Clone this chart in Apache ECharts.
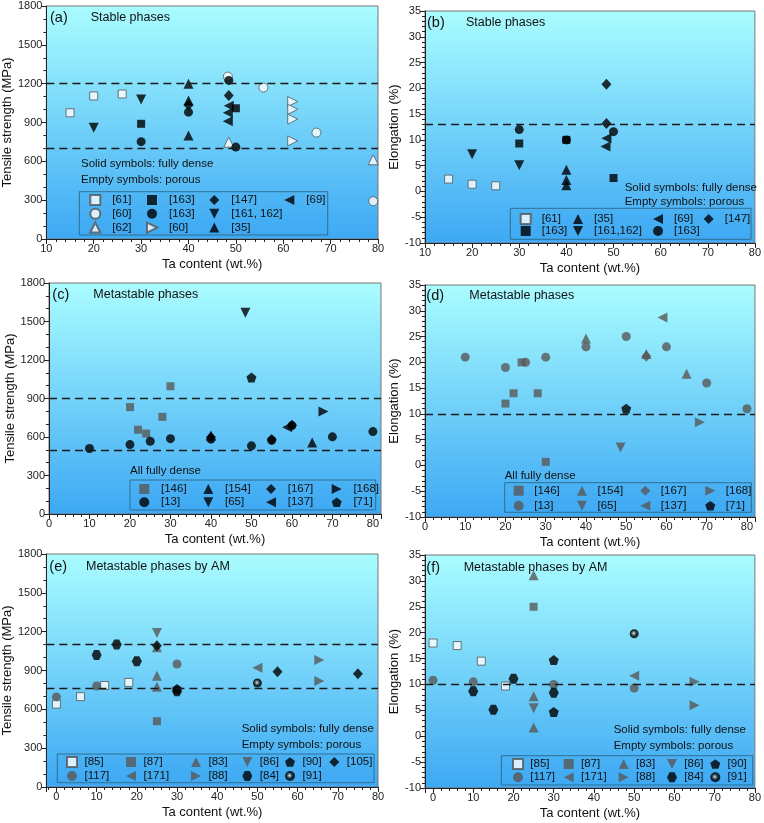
<!DOCTYPE html>
<html>
<head>
<meta charset="utf-8">
<script src="https://cdn.jsdelivr.net/npm/echarts@6.0.0/dist/echarts.min.js"></script>
<style>
  html, body { margin: 0; padding: 0; background: #fff; }
  #chart { width: 764px; height: 823px; }
</style>
</head>
<body>
<div id="chart"></div>
<script>
// ---------- data (x = Ta content wt.%, y = strength MPa / elongation %) ----------
// (a) stable phases, tensile strength
const aRef61 = [[15, 975], [20, 1105], [26, 1120]];
const aRef60c = [[48.3, 1255], [55.8, 1170], [67, 822], [79, 292]];
const aRef62 = [[48.5, 748], [79, 612]];
const aRef163s = [[30, 890], [50, 1010]];
const aRef163c = [[30, 752], [40, 980], [48.5, 1225], [50, 710]];
const aRef60r = [[62, 1062], [62, 1002], [62, 926], [62, 758]];
const aRef147 = [[40, 1035], [48.5, 1108]];
const aRef161 = [[20, 860], [30, 1078]];
const aRef35 = [[40, 1200], [40, 1070], [40, 800]];
const aRef69 = [[48.5, 1030], [48.3, 975], [48.3, 910]];
const aLimits = [1200, 700];

// (b) stable phases, elongation
const bRef61 = [[15, 2.4], [20, 1.4], [25, 1.1]];
const bRef163s = [[30, 9.3], [40, 10], [50, 2.6]];
const bRef35 = [[40, 4.2], [40, 2.2], [40, 1.2]];
const bRef161 = [[20, 7.2], [30, 5.1]];
const bRef69 = [[48.5, 10.3], [48.3, 8.7]];
const bRef163c = [[30, 12], [40, 10], [50, 11.6]];
const bRef147 = [[48.5, 20.8], [48.5, 13.2]];
const bLimits = [13];

// (c) metastable phases, tensile strength
const cRef146 = [[20, 833], [22, 657], [24, 627], [28, 757], [30, 995]];
const cRef13 = [[10, 510], [20, 541], [25, 567], [30, 587], [40, 583], [50, 531], [55, 575], [60, 689], [70, 601], [80, 642]];
const cRef154 = [[40, 612], [65, 558]];
const cRef65 = [[48.5, 1568]];
const cRef167 = [[40, 598], [55, 580], [60, 692]];
const cRef137 = [[58.8, 676]];
const cRef168 = [[67.8, 798]];
const cRef71 = [[50, 1063]];
const cLimits = [900, 500];

// (d) metastable phases, elongation
const dRef146 = [[20, 12], [22, 14], [24, 20], [28, 14], [30, 0.7]];
const dRef13 = [[10, 21], [20, 19], [25, 20], [30, 21], [40, 23], [50, 25], [60, 23], [70, 16], [80, 11]];
const dRef154 = [[40, 24.6], [55, 21.6], [65, 17.8]];
const dRef65 = [[48.6, 3.5]];
const dRef167 = [[55, 21.2]];
const dRef137 = [[59, 28.7]];
const dRef168 = [[68.3, 8.4]];
const dRef71 = [[50, 11]];
const dLimits = [10];

// (e) metastable phases by AM, tensile strength
const eRef85 = [[0, 640], [6, 698], [12, 784], [18, 808]];
const eRef117 = [[0, 696], [10, 780], [30, 950]];
const eRef87 = [[25, 508]];
const eRef171 = [[50, 922]];
const eRef83 = [[25, 1080], [25, 860], [25, 775]];
const eRef88 = [[65.4, 982], [65.4, 818]];
const eRef86 = [[25, 1190]];
const eRef84 = [[10, 1020], [15, 1100], [20, 972], [30, 740]];
const eRef90 = [[30, 757]];
const eRef91 = [[50, 803]];
const eRef105 = [[25, 1092], [55, 890], [75, 874]];
const eLimits = [1100, 760];

// (f) metastable phases by AM, elongation
const fRef85 = [[0, 18], [6, 17.5], [12, 14.5], [18, 9.7]];
const fRef117 = [[0, 10.8], [10, 10.5], [30, 10], [50, 9.3]];
const fRef87 = [[25, 25]];
const fRef171 = [[50, 11.7]];
const fRef83 = [[25, 31.1], [25, 7.7], [25, 1.7]];
const fRef88 = [[65, 10.5], [65, 6]];
const fRef86 = [[25, 5.4]];
const fRef84 = [[10, 8.7], [15, 5.1], [20, 11.1], [30, 8.4]];
const fRef90 = [[30, 14.7], [30, 4.7]];
const fRef91 = [[50, 19.8]];
const fLimits = [10];

// ---------- styling ----------
const FONT = '"Liberation Sans", Arial, sans-serif';
const P = { a: 0, b: 1, c: 2, d: 3, e: 4, f: 5 };

const shapes = {
  square: { symbol: 'rect', size: 8 },
  circle: { symbol: 'circle', size: 9 },
  up: { symbol: 'triangle', size: 10 },
  down: { symbol: 'path://M0,0L100,0L50,100Z', size: 10 },
  left: { symbol: 'path://M100,0L100,100L0,50Z', size: 10 },
  right: { symbol: 'path://M0,0L0,100L100,50Z', size: 10 },
  diamond: { symbol: 'diamond', size: [10, 11] },
  pentagon: { symbol: 'path://M50,0L97.55,34.55L79.39,90.45L20.61,90.45L2.45,34.55Z', size: 10 },
  hexagon: { symbol: 'path://M25,0L75,0L100,50L75,100L25,100L0,50Z', size: 10 }
};

const fills = {
  empty: { color: '#ffffff', borderColor: '#555', borderWidth: 1 },
  black: { color: '#000000' },
  gray: { color: '#595959' },
  ball: {
    color: {
      type: 'radial', x: 0.45, y: 0.45, r: 0.55,
      colorStops: [
        { offset: 0, color: '#ffffff' },
        { offset: 0.3, color: '#666666' },
        { offset: 0.6, color: '#000000' },
        { offset: 1, color: '#000000' }
      ]
    }
  }
};

function sc(panel, label, data, shape, fill, limits) {
  const s = shapes[shape];
  const out = {
    name: panel + '|' + label + '|' + shape,
    type: 'scatter',
    xAxisIndex: P[panel],
    yAxisIndex: P[panel],
    data: data,
    symbol: s.symbol,
    symbolSize: s.size,
    itemStyle: fills[fill],
    emphasis: { disabled: true }
  };
  if (limits) {
    out.markLine = {
      silent: true,
      symbol: 'none',
      label: { show: false },
      lineStyle: { type: [8, 5], color: '#1a1a1a', width: 1.4 },
      data: limits.map(v => ({ yAxis: v }))
    };
  }
  return out;
}

const series = [
  sc('a', '[61]', aRef61, 'square', 'empty', aLimits),
  sc('a', '[60]', aRef60c, 'circle', 'empty'),
  sc('a', '[62]', aRef62, 'up', 'empty'),
  sc('a', '[163]', aRef163s, 'square', 'black'),
  sc('a', '[163]', aRef163c, 'circle', 'black'),
  sc('a', '[60]', aRef60r, 'right', 'empty'),
  sc('a', '[147]', aRef147, 'diamond', 'black'),
  sc('a', '[161, 162]', aRef161, 'down', 'black'),
  sc('a', '[35]', aRef35, 'up', 'black'),
  sc('a', '[69]', aRef69, 'left', 'black'),

  sc('b', '[61]', bRef61, 'square', 'empty', bLimits),
  sc('b', '[163]', bRef163s, 'square', 'black'),
  sc('b', '[35]', bRef35, 'up', 'black'),
  sc('b', '[161,162]', bRef161, 'down', 'black'),
  sc('b', '[69]', bRef69, 'left', 'black'),
  sc('b', '[163]', bRef163c, 'circle', 'black'),
  sc('b', '[147]', bRef147, 'diamond', 'black'),

  sc('c', '[146]', cRef146, 'square', 'gray', cLimits),
  sc('c', '[13]', cRef13, 'circle', 'black'),
  sc('c', '[154]', cRef154, 'up', 'black'),
  sc('c', '[65]', cRef65, 'down', 'black'),
  sc('c', '[167]', cRef167, 'diamond', 'black'),
  sc('c', '[137]', cRef137, 'left', 'black'),
  sc('c', '[168]', cRef168, 'right', 'black'),
  sc('c', '[71]', cRef71, 'pentagon', 'black'),

  sc('d', '[146]', dRef146, 'square', 'gray', dLimits),
  sc('d', '[13]', dRef13, 'circle', 'gray'),
  sc('d', '[154]', dRef154, 'up', 'gray'),
  sc('d', '[65]', dRef65, 'down', 'gray'),
  sc('d', '[167]', dRef167, 'diamond', 'gray'),
  sc('d', '[137]', dRef137, 'left', 'gray'),
  sc('d', '[168]', dRef168, 'right', 'gray'),
  sc('d', '[71]', dRef71, 'pentagon', 'black'),

  sc('e', '[85]', eRef85, 'square', 'empty', eLimits),
  sc('e', '[117]', eRef117, 'circle', 'gray'),
  sc('e', '[87]', eRef87, 'square', 'gray'),
  sc('e', '[171]', eRef171, 'left', 'gray'),
  sc('e', '[83]', eRef83, 'up', 'gray'),
  sc('e', '[88]', eRef88, 'right', 'gray'),
  sc('e', '[86]', eRef86, 'down', 'gray'),
  sc('e', '[84]', eRef84, 'hexagon', 'black'),
  sc('e', '[90]', eRef90, 'pentagon', 'black'),
  sc('e', '[91]', eRef91, 'circle', 'ball'),
  sc('e', '[105]', eRef105, 'diamond', 'black'),

  sc('f', '[85]', fRef85, 'square', 'empty', fLimits),
  sc('f', '[117]', fRef117, 'circle', 'gray'),
  sc('f', '[87]', fRef87, 'square', 'gray'),
  sc('f', '[171]', fRef171, 'left', 'gray'),
  sc('f', '[83]', fRef83, 'up', 'gray'),
  sc('f', '[88]', fRef88, 'right', 'gray'),
  sc('f', '[86]', fRef86, 'down', 'gray'),
  sc('f', '[84]', fRef84, 'hexagon', 'black'),
  sc('f', '[90]', fRef90, 'pentagon', 'black'),
  sc('f', '[91]', fRef91, 'circle', 'ball')
];

// ---------- layout ----------
const bg = {
  type: 'linear', x: 0, y: 0, x2: 0, y2: 1,
  colorStops: [{ offset: 0, color: '#aafdff' }, { offset: 1, color: '#3da8f4' }]
};
const gridBoxes = [
  [46, 6, 332, 233],
  [425, 11, 331, 232],
  [49, 283, 332, 231],
  [425, 285, 330, 232],
  [44, 554, 334, 233],
  [425, 555, 330, 233]
];
const grids = gridBoxes.map(([l, t, w, h]) => ({
  left: l, top: t, width: w, height: h,
  show: true, backgroundColor: bg, borderColor: '#777', borderWidth: 1
}));

const xRanges = [[10, 80], [10, 80], [0, 82], [0, 82], [-2.5, 80], [-2, 80]];
const strengthRange = [0, 1800, 300];
const elongRange = [-10, 35, 5];

const tickStyle = { color: '#222', width: 1 };
const xAxes = xRanges.map(([mn, mx], i) => ({
  type: 'value', gridIndex: i, min: mn, max: mx,
  minInterval: 10, maxInterval: 10, splitNumber: 8,
  name: 'Ta content (wt.%)', nameLocation: 'middle', nameGap: 19,
  nameTextStyle: { fontSize: 13, color: '#111', fontFamily: FONT },
  axisLine: { onZero: false, lineStyle: tickStyle },
  axisTick: { length: 5, lineStyle: tickStyle },
  minorTick: { show: true, splitNumber: 5, length: 3, lineStyle: tickStyle },
  axisLabel: {
    fontSize: 11, color: '#222', margin: 4, fontFamily: FONT,
    formatter: v => (Math.abs(v % 10) < 1e-6 ? String(v) : '')
  },
  splitLine: { show: false }
}));

const yAxes = [0, 1, 2, 3, 4, 5].map(i => {
  const strength = i % 2 === 0;
  const r = strength ? strengthRange : elongRange;
  return {
    type: 'value', gridIndex: i, min: r[0], max: r[1], interval: r[2],
    name: strength ? 'Tensile strength (MPa)' : 'Elongation (%)',
    nameLocation: 'middle', nameGap: strength ? 30 : 23,
    nameTextStyle: { fontSize: 13, color: '#111', fontFamily: FONT },
    axisLine: { show: true, onZero: false, lineStyle: tickStyle },
    axisTick: { show: true, length: 5, lineStyle: tickStyle },
    minorTick: { show: true, splitNumber: strength ? 3 : 5, length: 3, lineStyle: tickStyle },
    axisLabel: { fontSize: 11, color: '#222', margin: 4, fontFamily: FONT, formatter: v => String(v) },
    splitLine: { show: false }
  };
});

// legend columns: panel, icon centre x, first row centre y, icon-to-text offset, row gap, items
function legendCol(panel, cx, cy, textOff, gap, items) {
  return {
    orient: 'vertical', left: cx - 5, top: cy - 6, padding: 0,
    itemWidth: 10, itemHeight: 10, itemGap: gap, selectedMode: false,
    data: items.map(([label, shape]) => panel + '|' + label + '|' + shape),
    formatter: n => n.split('|')[1],
    textStyle: {
      fontSize: 11.5, lineHeight: 12, color: '#111', fontFamily: FONT,
      padding: [0, 0, 0, Math.max(0, textOff - 10)]
    }
  };
}
const legends = [
  legendCol('a', 94.3, 200, 17, 1.8, [['[61]', 'square'], ['[60]', 'circle'], ['[62]', 'up']]),
  legendCol('a', 151, 200, 17, 1.8, [['[163]', 'square'], ['[163]', 'circle'], ['[60]', 'right']]),
  legendCol('a', 214.3, 200, 17, 1.8, [['[147]', 'diamond'], ['[161, 162]', 'down'], ['[35]', 'up']]),
  legendCol('a', 289.3, 200, 17, 1.8, [['[69]', 'left']]),

  legendCol('b', 524.7, 219, 16, 0, [['[61]', 'square'], ['[163]', 'square']]),
  legendCol('b', 578, 219, 16, 0, [['[35]', 'up'], ['[161,162]', 'down']]),
  legendCol('b', 658, 219, 16, 0, [['[69]', 'left'], ['[163]', 'circle']]),
  legendCol('b', 708.7, 219, 16, 0, [['[147]', 'diamond']]),

  legendCol('c', 144.3, 489, 16.7, 1.3, [['[146]', 'square'], ['[13]', 'circle']]),
  legendCol('c', 208.3, 489, 16.7, 1.3, [['[154]', 'up'], ['[65]', 'down']]),
  legendCol('c', 271, 489, 16.7, 1.3, [['[167]', 'diamond'], ['[137]', 'left']]),
  legendCol('c', 336.7, 489, 16.7, 1.3, [['[168]', 'right'], ['[71]', 'pentagon']]),

  legendCol('d', 518.7, 490.7, 15.5, 3, [['[146]', 'square'], ['[13]', 'circle']]),
  legendCol('d', 582, 490.7, 15.5, 3, [['[154]', 'up'], ['[65]', 'down']]),
  legendCol('d', 645.3, 490.7, 15.5, 3, [['[167]', 'diamond'], ['[137]', 'left']]),
  legendCol('d', 710.3, 490.7, 15.5, 3, [['[168]', 'right'], ['[71]', 'pentagon']]),

  legendCol('e', 71, 762, 12.5, 2, [['[85]', 'square'], ['[117]', 'circle']]),
  legendCol('e', 131, 762, 12.5, 2, [['[87]', 'square'], ['[171]', 'left']]),
  legendCol('e', 196, 762, 12.5, 2, [['[83]', 'up'], ['[88]', 'right']]),
  legendCol('e', 247.3, 762, 12.5, 2, [['[86]', 'down'], ['[84]', 'hexagon']]),
  legendCol('e', 290, 762, 12.5, 2, [['[90]', 'pentagon'], ['[91]', 'circle']]),
  legendCol('e', 334.3, 762, 12.5, 2, [['[105]', 'diamond']]),

  legendCol('f', 517, 764, 12.3, 1.3, [['[85]', 'square'], ['[117]', 'circle']]),
  legendCol('f', 568.7, 764, 12.3, 1.3, [['[87]', 'square'], ['[171]', 'left']]),
  legendCol('f', 623.7, 764, 12.3, 1.3, [['[83]', 'up'], ['[88]', 'right']]),
  legendCol('f', 672, 764, 12.3, 1.3, [['[86]', 'down'], ['[84]', 'hexagon']]),
  legendCol('f', 715.3, 764, 12.3, 1.3, [['[90]', 'pentagon'], ['[91]', 'circle']])
];

// legend frames
const frames = [
  [79.3, 191.7, 248.4, 43.3],
  [510.3, 208.3, 240.7, 31],
  [130, 480, 245.7, 30],
  [504.7, 482.7, 246.6, 29.6],
  [57.3, 754, 316.7, 28.7],
  [501.3, 755.7, 251.4, 29.3]
];

// annotation texts: [text, x, y(centre), size]
const notes = [
  ['(a)', 50, 18, 14.5], ['Stable phases', 90.7, 18, 12.5],
  ['Solid symbols: fully dense', 81, 164, 11.5], ['Empty symbols: porous', 81, 180, 11.5],
  ['(b)', 427, 22.7, 14.5], ['Stable phases', 466, 22.7, 12.5],
  ['Solid symbols: fully dense', 624.7, 187.7, 11.5], ['Empty symbols: porous', 624.7, 202.3, 11.5],
  ['(c)', 52.3, 295, 14.5], ['Metastable phases', 93.3, 295, 12.5],
  ['All fully dense', 130, 471, 11.5],
  ['(d)', 426.3, 295.7, 14.5], ['Metastable phases', 469.3, 295.7, 12.5],
  ['All fully dense', 504.7, 475.7, 11.5],
  ['(e)', 49.3, 566.7, 14.5], ['Metastable phases by AM', 86, 566.7, 12.5],
  ['Solid symbols: fully dense', 241.7, 729.3, 11.5], ['Empty symbols: porous', 241.7, 745, 11.5],
  ['(f)', 426.3, 567.7, 14.5], ['Metastable phases by AM', 463.7, 567.7, 12.5],
  ['Solid symbols: fully dense', 613.7, 730, 11.5], ['Empty symbols: porous', 613.7, 746, 11.5]
];

const graphic = [
  ...frames.map(([x, y, w, h]) => ({
    type: 'rect', shape: { x, y, width: w, height: h }, silent: true, z: 1,
    style: { fill: 'rgba(60,170,240,0.15)', stroke: '#2f6f92', lineWidth: 1 }
  })),
  ...notes.map(([t, x, y, s]) => ({
    type: 'text', x, y, silent: true, z: 5,
    style: { text: t, fontSize: s, fontFamily: FONT, fill: '#111', verticalAlign: 'middle' }
  }))
];

const option = {
  animation: false,
  backgroundColor: '#ffffff',
  textStyle: { fontFamily: FONT },
  grid: grids,
  xAxis: xAxes,
  yAxis: yAxes,
  legend: legends,
  graphic: graphic,
  series: series
};

const myChart = echarts.init(document.getElementById('chart'));
myChart.setOption(option);
</script>
</body>
</html>
